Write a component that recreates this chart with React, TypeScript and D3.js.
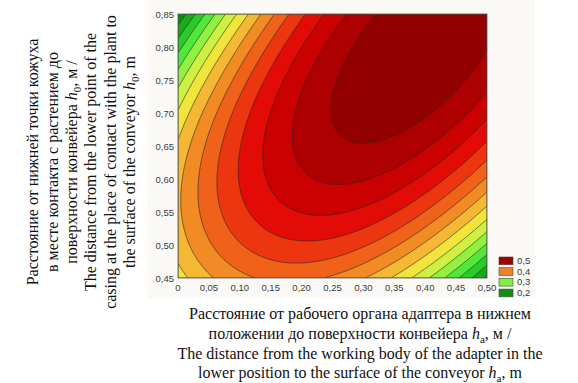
import React from "react";
import * as d3 from "d3";

// Axis ticks (value + label as printed)
const xTickValues = [0, 0.05, 0.1, 0.15, 0.2, 0.25, 0.3, 0.35, 0.4, 0.45, 0.5];
const xTickLabels = ["0", "0,05", "0,10", "0,15", "0,20", "0,25", "0,30", "0,35", "0,40", "0,45", "0,50"];
const yTickValues = [0.45, 0.5, 0.55, 0.6, 0.65, 0.7, 0.75, 0.8, 0.85];
const yTickLabels = ["0,45", "0,50", "0,55", "0,60", "0,65", "0,70", "0,75", "0,80", "0,85"];

// Fitted response surface (biquadratic polynomial) in normalised units
// p = ha / 0.5, q = (h0 - 0.45) / 0.4 ; z = sum C[i][j] * p^i * q^j
const surfaceRowP0 = [0.3136, 0.222, -0.383];
const surfaceRowP1 = [0.375, 0.29, 0.21];
const surfaceRowP2 = [-0.52, 0.15, -0.15];

// Contour levels and band colours (band i lies between level i-1 and level i)
const contourLevels = [0.175, 0.2, 0.225, 0.25, 0.275, 0.3, 0.325, 0.35, 0.375, 0.4, 0.425, 0.45, 0.475, 0.5];
const bandColors = [
  "#118a11", "#19ab19", "#29cb29", "#52e73b", "#92f041", "#cdf042", "#f1e53b", "#f5b835",
  "#f28b23", "#f0611a", "#ec3610", "#e30b05", "#cb0000", "#ae0000", "#930000",
];

// Legend
const legendLabels = ["0,5", "0,4", "0,3", "0,2"];
const legendColors = ["#a00000", "#f08030", "#80f040", "#128c12"];

const W = 578;
const H = 383;
const PL = 178, PR = 487, PT = 14, PB = 278;

function surface(x: number, y: number): number {
  const C = [surfaceRowP0, surfaceRowP1, surfaceRowP2];
  const p = x / 0.5;
  const q = (y - 0.45) / 0.4;
  let z = 0;
  for (let i = 0; i < 3; i++) for (let j = 0; j < 3; j++) z += C[i][j] * Math.pow(p, i) * Math.pow(q, j);
  return z;
}

export default function App() {
  const xScale = d3.scaleLinear().domain([0, 0.5]).range([PL, PR]);
  const yScale = d3.scaleLinear().domain([0.45, 0.85]).range([PB, PT]);

  const nx = 309, ny = 264;
  const values = new Array(nx * ny);
  for (let j = 0; j < ny; j++) {
    const yv = yScale.invert(PT + ((j + 0.5) * (PB - PT)) / ny);
    for (let i = 0; i < nx; i++) {
      const xv = xScale.invert(PL + ((i + 0.5) * (PR - PL)) / nx);
      values[j * nx + i] = surface(xv, yv);
    }
  }
  const contours = d3.contours().size([nx, ny]).thresholds(contourLevels)(values);
  const proj = d3.geoTransform({
    point(x: number, y: number) {
      (this as any).stream.point(PL + (x * (PR - PL)) / nx, PT + (y * (PB - PT)) / ny);
    },
  });
  const path = d3.geoPath(proj);

  const serif = "'Liberation Serif', 'Times New Roman', serif";
  const sans = "'Liberation Sans', Arial, sans-serif";

  const yTitleLines: React.ReactNode[] = [
    "Расстояние от нижней точки кожуха",
    "в месте контакта с растением до",
    <>
      поверхности конвейера <tspan fontStyle="italic">h</tspan>
      <tspan dy={4} fontSize={11}>0</tspan>
      <tspan dy={-4}>, м /</tspan>
    </>,
    "The distance from the lower point of the",
    "casing at the place of contact with the plant to",
    <>
      the surface of the conveyor <tspan fontStyle="italic">h</tspan>
      <tspan dy={4} fontSize={11}>0</tspan>
      <tspan dy={-4}>, m</tspan>
    </>,
  ];
  const yTitleX = [38, 57.5, 77, 96, 115.5, 135];

  const xTitleLines: React.ReactNode[] = [
    "Расстояние от рабочего органа адаптера в нижнем",
    <>
      положении до поверхности конвейера <tspan fontStyle="italic">h</tspan>
      <tspan dy={4} fontSize={11}>a</tspan>
      <tspan dy={-4}>, м /</tspan>
    </>,
    "The distance from the working body of the adapter in the",
    <>
      lower position to the surface of the conveyor <tspan fontStyle="italic">h</tspan>
      <tspan dy={4} fontSize={11}>a</tspan>
      <tspan dy={-4}>, m</tspan>
    </>,
  ];
  const xTitleY = [319, 339, 359, 378];

  return (
    <svg
      width={W}
      height={H}
      style={{ position: "absolute", left: 0, top: 0, background: "#ffffff" }}
    >
      <rect x={147} y={0} width={388} height={298} fill="#fbf9f6" />
      <defs>
        <clipPath id="plotClip">
          <rect x={PL} y={PT} width={PR - PL} height={PB - PT} />
        </clipPath>
      </defs>
      <g clipPath="url(#plotClip)">
        <rect x={PL} y={PT} width={PR - PL} height={PB - PT} fill={bandColors[0]} />
        {contours.map((c, k) => (
          <path
            key={k}
            d={path(c as any) || ""}
            fill={bandColors[k + 1]}
            stroke="#262626"
            strokeWidth={0.75}
            strokeOpacity={0.85}
          />
        ))}
      </g>
      <rect x={PL} y={PT} width={PR - PL} height={PB - PT} fill="none" stroke="#555" strokeWidth={0.8} />

      {yTickValues.map((v, i) => (
        <text
          key={"y" + i}
          x={PL - 4}
          y={yScale(v) + 3.5}
          textAnchor="end"
          fontFamily={sans}
          fontSize={9.5}
          fill="#3a3a3a"
        >
          {yTickLabels[i]}
        </text>
      ))}
      {xTickValues.map((v, i) => (
        <text
          key={"x" + i}
          x={xScale(v)}
          y={291}
          textAnchor="middle"
          fontFamily={sans}
          fontSize={9.5}
          fill="#3a3a3a"
        >
          {xTickLabels[i]}
        </text>
      ))}

      {legendLabels.map((l, i) => (
        <g key={"lg" + i}>
          <rect x={499} y={257 + i * 10.7} width={14} height={7.7} fill={legendColors[i]} stroke="#444" strokeWidth={0.6} />
          <text x={517} y={264 + i * 10.7} fontFamily={sans} fontSize={9.5} fill="#3a3a3a">
            {l}
          </text>
        </g>
      ))}

      {yTitleLines.map((line, i) => (
        <text
          key={"yt" + i}
          transform={`translate(${yTitleX[i]},162) rotate(-90)`}
          textAnchor="middle"
          fontFamily={serif}
          fontSize={16}
          fill="#111"
        >
          {line}
        </text>
      ))}
      {xTitleLines.map((line, i) => (
        <text
          key={"xt" + i}
          x={360}
          y={xTitleY[i]}
          textAnchor="middle"
          fontFamily={serif}
          fontSize={16}
          fill="#111"
        >
          {line}
        </text>
      ))}
    </svg>
  );
}
